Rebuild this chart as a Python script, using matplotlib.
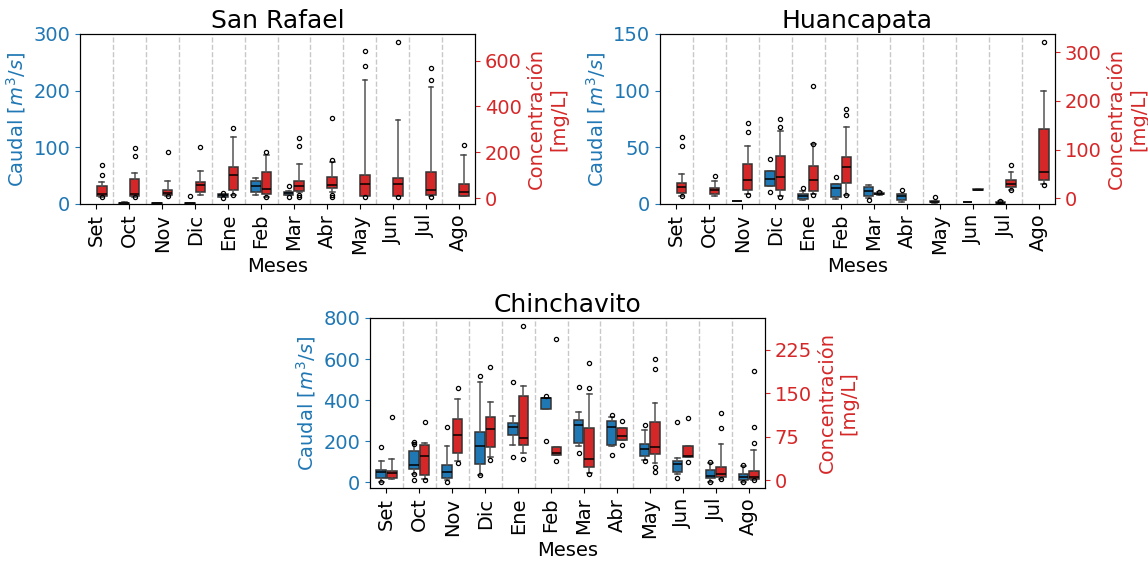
import matplotlib
matplotlib.use("Agg")
import matplotlib.pyplot as plt

meses = ["Set", "Oct", "Nov", "Dic", "Ene", "Feb", "Mar", "Abr", "May", "Jun", "Jul", "Ago"]

# box stats per month: (q1, mediana, q3, bigote_inf, bigote_sup) ; None = sin datos
sr_caudal = [None, (0.5, 1.5, 2.5, 0, 3), (0.3, 1, 1.8, 0, 2.5), (0.3, 1, 1.8, 0, 2.5),
             (13, 15, 17.5, 12.5, 18), (21.4, 32, 40.5, 16.5, 46.4), (16.5, 19.5, 22, 15.5, 23),
             None, None, None, None, None]
sr_caudal_fl = [[], [], [], [13.5], [20, 11], [], [31, 12], [], [], [], [], []]
sr_conc = [(10, 19, 54, 5, 69), (10, 18, 85, 5, 110), (15, 22, 34, 10, 76), (25, 56, 69, 15, 120),
           (35, 102, 135, 15, 268), (18, 41, 113, 5, 186), (32, 54, 76, 25, 148), (44, 58, 91, 25, 157),
           (7, 63, 102, 7, 517), (7, 63, 88, 7, 341), (12, 37, 113, 7, 486), (10, 26, 63, 7, 186)]
sr_conc_fl = [[101, 146, 3], [183, 220, 3], [200, 8], [222], [307, 14], [202, 3], [227, 263, 15, 6],
              [348, 165, 15, 5], [578, 644, 4], [681, 4], [515, 569, 4], [230]]

hu_caudal = [None, None, (2.7, 2.7, 2.7, 2.7, 2.7), (16, 22, 29, 16, 29), (4.1, 7, 8.5, 3.5, 11.5),
             (6.5, 13.8, 17.6, 4.1, 18), (7.4, 11.8, 15.3, 5, 17), (3.6, 7, 8.9, 2, 9),
             (1.5, 2, 2.7, 1, 3), (1.5, 1.5, 1.5, 1.5, 1.5), (0.6, 1.2, 2, 0.3, 2.5), None]
hu_caudal_fl = [[], [], [], [39.5, 10.5], [14.4], [23.5], [3.5], [12.4], [6.5], [], [0.2, 2.6], []]
hu_conc = [(10.3, 22, 31, 5, 50), (9, 16.5, 20.7, 3.4, 36), (17, 38, 71, 8, 107), (16, 43, 86, 3.4, 138),
           (14, 38, 65.5, 8, 112), (31, 63.4, 85, 7, 146), (8.3, 9, 10.3, 7.5, 12), None, None,
           (17, 17.5, 18, 16.5, 19), (22, 29, 36.5, 17, 53), (36.5, 53, 141.4, 29, 221)]
hu_conc_fl = [[107, 126, 4], [45], [136, 154, 7], [146, 163, 3], [230, 112, 7], [171, 183, 6], [12.5],
              [], [], [], [67.6, 16], [321, 28]]

ch_caudal = [(21, 48.7, 61.7, 0, 102), (65, 86, 154, 40.6, 191.5), (21, 48.7, 86, 9.7, 175),
             (91, 175, 243, 34, 487), (229, 268, 289, 183, 321), (358, 410, 410, 358, 410),
             (191.5, 281, 305, 175, 342), (183, 268, 300, 175, 316), (130, 162, 187, 110, 256),
             (48.7, 91, 102, 42, 118.5), (21, 29, 58.4, 0, 94), (13, 26, 40.6, 0, 80)]
ch_caudal_fl = [[172, 0], [188, 195, 10, 40], [268, 3], [519, 34], [487, 123], [418, 203], [462, 143],
                [328, 131], [281, 102], [292, 21], [100, 0], [86, 0]]
ch_conc = [(4, 12.6, 15.5, 2.3, 36.7), (8.6, 42.5, 61, 2.3, 64), (48, 78.6, 105.6, 32.7, 140),
           (57.4, 88.4, 110, 40, 136), (60.8, 74, 145.8, 47, 163.6), (44, 47, 58.5, 44, 58.5),
           (24, 36.7, 91, 12.6, 148.7), (69, 77, 91, 69, 91), (45.3, 57.4, 101.6, 30, 134),
           (39.6, 42.5, 59.7, 39.6, 59.7), (5.7, 11, 24, 2.3, 62.6), (2.3, 5.2, 15.5, 1, 51.7)]
ch_conc_fl = [[110], [101.6, 0], [160, 30], [195, 35.6], [266, 37.3], [243, 34.4], [160, 202, 12],
              [102.7, 61.4], [191.7, 209, 22.4, 14.4], [107, 31], [90, 116, 2], [64.3, 91.3, 189.4, 0.5]]

AZUL = "#1f77b4"
ROJO = "#d62728"
FS = 14


def dibujar_cajas(ax, datos, fliers, color, desplazamiento):
    stats, pos = [], []
    for i, (d, fl) in enumerate(zip(datos, fliers)):
        if d is None:
            continue
        q1, med, q3, lo, hi = d
        stats.append(dict(q1=q1, med=med, q3=q3, whislo=lo, whishi=hi, fliers=fl))
        pos.append(i + desplazamiento)
    ax.bxp(stats, positions=pos, widths=0.29, patch_artist=True, manage_ticks=False,
           boxprops=dict(facecolor=color, edgecolor="#333333", linewidth=1.1),
           medianprops=dict(color="black", linewidth=1.1),
           whiskerprops=dict(color="#555555", linewidth=1.1),
           capprops=dict(color="#444444", linewidth=1.1),
           flierprops=dict(marker="o", markersize=3, markerfacecolor="none",
                           markeredgecolor="black", markeredgewidth=0.9))


def panel(rect, titulo, caudal, caudal_fl, conc, conc_fl, lim_izq, ticks_izq, lim_der, ticks_der):
    ax = fig.add_axes(rect)
    ax2 = ax.twinx()
    for k in range(11):
        ax.axvline(k + 0.5, color="#c8c8c8", linestyle="--", linewidth=1, zorder=0)
    dibujar_cajas(ax, caudal, caudal_fl, AZUL, -0.16)
    dibujar_cajas(ax2, conc, conc_fl, ROJO, 0.16)
    ax.set_xlim(-0.5, 11.5)
    ax.set_xticks(range(12))
    ax.set_xticklabels(meses, rotation=90, fontsize=FS)
    ax.set_xlabel("Meses", fontsize=FS, labelpad=2)
    ax.set_ylim(lim_izq)
    ax.set_yticks(ticks_izq)
    ax.tick_params(axis="y", colors=AZUL, labelsize=FS)
    ax.set_ylabel("Caudal [$m^3/s$]", color=AZUL, fontsize=FS)
    ax2.set_ylim(lim_der)
    ax2.set_yticks(ticks_der)
    ax2.tick_params(axis="y", colors=ROJO, labelsize=FS)
    ax2.set_ylabel("Concentración\n[mg/L]", color=ROJO, fontsize=FS)
    ax.set_title(titulo, fontsize=18, pad=4)
    return ax, ax2


fig = plt.figure(figsize=(11.48, 5.63), dpi=100)

panel([0.0697, 0.6377, 0.3441, 0.302], "San Rafael", sr_caudal, sr_caudal_fl, sr_conc, sr_conc_fl,
      (0, 300), [0, 100, 200, 300], (-26, 717), [0, 200, 400, 600])
panel([0.5749, 0.6377, 0.3441, 0.302], "Huancapata", hu_caudal, hu_caudal_fl, hu_conc, hu_conc_fl,
      (0, 150), [0, 50, 100, 150], (-12, 338), [0, 100, 200, 300])
panel([0.3223, 0.1332, 0.3441, 0.302], "Chinchavito", ch_caudal, ch_caudal_fl, ch_conc, ch_conc_fl,
      (-28, 800), [0, 200, 400, 600, 800], (-13, 280), [0, 75, 150, 225])

fig.savefig("out.png", dpi=100)
